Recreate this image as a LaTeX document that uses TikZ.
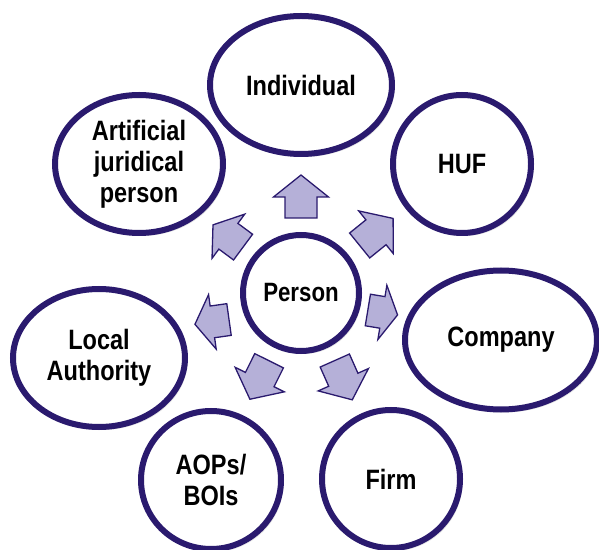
\documentclass[tikz,border=0pt]{standalone}
\usepackage{fontspec}
\setmainfont{Liberation Sans}[FakeStretch=0.84]
\usetikzlibrary{shapes.geometric,shadows}
\definecolor{ring}{HTML}{2A1A6E}
\definecolor{lav}{HTML}{B5B0D8}
\tikzset{
  entity/.style={ellipse, draw=ring, line width=6pt, fill=white, inner sep=0pt,
    align=center, font=\bfseries\fontsize{28}{31}\selectfont,
    drop shadow={opacity=0.22, shadow xshift=2.5pt, shadow yshift=-3pt}},
  hub/.style={circle, draw=ring, line width=6pt, fill=white, inner sep=0pt,
    minimum size=116pt, font=\bfseries\fontsize{26.5}{30}\selectfont,
    drop shadow={opacity=0.22, shadow xshift=2.5pt, shadow yshift=-3pt}},
  blockarrow/.style={draw=ring, line width=1.3pt, fill=lav, line join=miter}
}
\newcommand\personarrow[4]{%
  \draw[blockarrow, shift={(person.center)}, rotate=#1, xshift=#2pt, rotate=#3, xscale=#4]
    (-21.5,-16) -- (-0.5,-16) -- (-0.5,-27.5) -- (21.5,0) -- (-0.5,27.5)
    -- (-0.5,16) -- (-21.5,16) -- cycle;}
\begin{document}
\begin{tikzpicture}[x=1pt,y=1pt]
  \useasboundingbox (0,0) rectangle (599,549);
  \node[hub] (person) at (301,256) {Person};
  \node[entity, minimum width=182pt, minimum height=138pt] (individual) at (301,464) {Individual};
  \node[entity, minimum width=138pt, minimum height=138pt] (huf) at (462,385) {HUF};
  \node[entity, minimum width=192pt, minimum height=139pt] (company) at (501,209) {Company};
  \node[entity, minimum width=138pt, minimum height=138pt] (firm) at (391,70) {Firm};
  \node[entity, minimum width=140pt, minimum height=138pt] (aops) at (211,69) {AOPs/\\BOIs};
  \node[entity, minimum width=172pt, minimum height=138pt] (local) at (99,191) {Local\\Authority};
  \node[entity, minimum width=168pt, minimum height=138pt] (artificial) at (139,385) {Artificial\\juridical\\person};
  \personarrow{90}{96.5}{0}{1}
  \personarrow{39}{97}{0}{1}
  \personarrow{142}{92.6}{1.5}{0.87}
  \personarrow{-13.4}{84}{4}{0.7}
  \personarrow{198}{93.6}{-10}{0.8}
  \personarrow{-64}{97}{-2}{1}
  \personarrow{-115.5}{96.4}{-1}{1}
\end{tikzpicture}
\end{document}
